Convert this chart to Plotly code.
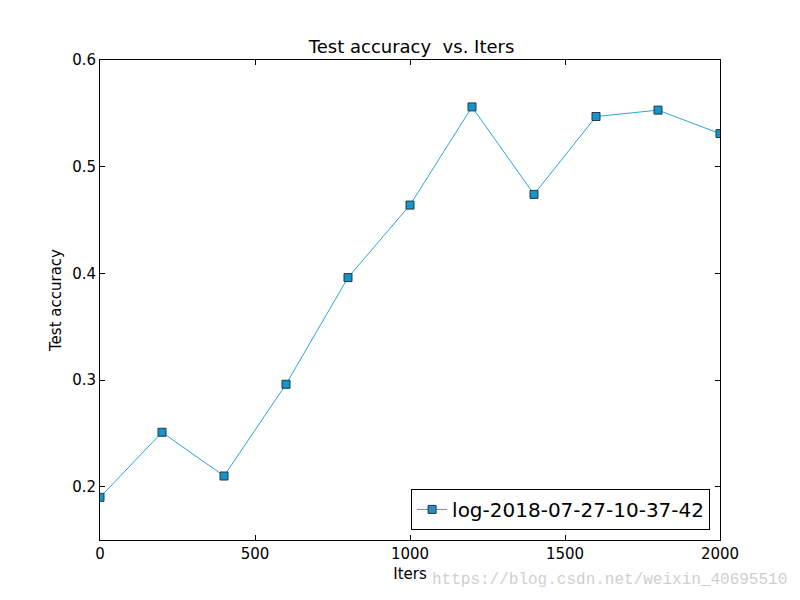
import plotly.graph_objects as go

iters = [0, 200, 400, 600, 800, 1000, 1200, 1400, 1600, 1800, 2000]
test_acc = [0.190, 0.251, 0.210, 0.296, 0.396, 0.464, 0.556, 0.474, 0.547, 0.553, 0.531]
series_name = "log-2018-07-27-10-37-42"
x_ticks = [0, 500, 1000, 1500, 2000]
y_ticks = [0.2, 0.3, 0.4, 0.5, 0.6]

font = "DejaVu Sans"

fig = go.Figure()
fig.add_trace(go.Scatter(
    x=iters, y=test_acc, mode="lines+markers", name=series_name,
    line=dict(color="#2ea6d6", width=1),
    marker=dict(symbol="square", size=8, color="#1795c6",
                line=dict(color="#1c3b4c", width=1)),
    cliponaxis=True,
))

axis_common = dict(
    showgrid=False, zeroline=False, showline=True, linecolor="black", linewidth=1,
    mirror="ticks", ticks="inside", ticklen=5, tickwidth=1, tickcolor="black",
    tickfont=dict(family=font, size=15, color="black"),
)

# page body has an 8px margin; compensate so the plot area sits at 100..720 x 60..540
fig.update_layout(
    width=800, height=600,
    paper_bgcolor="white", plot_bgcolor="white",
    margin=dict(l=92, r=88, t=52, b=68),
    title=dict(text="Test accuracy  vs. Iters", x=(410 - 8) / 800, xref="paper", xanchor="center",
               y=1 - 39 / 600, yanchor="middle",
               font=dict(family=font, size=18, color="black")),
    xaxis=dict(range=[0, 2000], tickvals=x_ticks,
               title=dict(text="Iters", font=dict(family=font, size=15, color="black"), standoff=6),
               **axis_common),
    yaxis=dict(range=[0.15, 0.6], tickvals=y_ticks, tickformat=".1f",
               title=dict(text="Test accuracy", font=dict(family=font, size=15, color="black"), standoff=6),
               **axis_common),
    showlegend=True,
    legend=dict(x=0.984, y=0.021, xanchor="right", yanchor="bottom",
                bgcolor="white", bordercolor="black", borderwidth=1, itemwidth=30,
                font=dict(family=font, size=20, color="black")),
    annotations=[dict(
        text="https://blog.csdn.net/weixin_40695510",
        x=(789 - 100) / 620, y=(540 - 580) / 480,
        xref="paper", yref="paper", xanchor="right", yanchor="middle", showarrow=False,
        font=dict(family="Liberation Mono", size=16, color="#cfcfcf"),
    )],
)

fig.write_html("out.html")
